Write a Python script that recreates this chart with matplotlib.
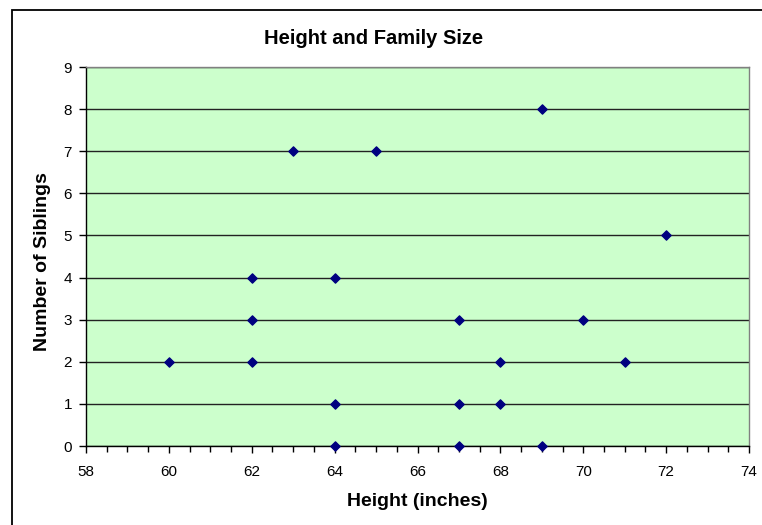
import matplotlib.pyplot as plt
from matplotlib.patches import Rectangle
from matplotlib.ticker import MultipleLocator

plt.rcParams['font.family'] = ['Liberation Sans', 'DejaVu Sans']

heights = [69, 63, 65, 72, 62, 64, 62, 67, 70, 60, 62, 68, 71, 64, 67, 68, 64, 67, 69]
siblings = [8, 7, 7, 5, 4, 4, 3, 3, 3, 2, 2, 2, 2, 1, 1, 1, 0, 0, 0]

W, H = 762, 525
fig = plt.figure(figsize=(W / 100, H / 100), dpi=100)
ax = fig.add_axes([86 / W, 1 - 446 / H, 663 / W, 379 / H])

# chart border (cropped at right and bottom as in the original)
fig.patches.append(Rectangle((12 / W, -0.1), 1.2, 1 - 10 / H + 0.1,
                             transform=fig.transFigure, fill=False,
                             edgecolor='black', linewidth=1.3))

ax.set_facecolor('#ccffcc')
ax.set_xlim(58, 74)
ax.set_ylim(0, 9)
ax.xaxis.set_major_locator(MultipleLocator(2))
ax.xaxis.set_minor_locator(MultipleLocator(0.5))
ax.yaxis.set_major_locator(MultipleLocator(1))

ax.grid(axis='y', color='#222222', linewidth=1)
ax.set_axisbelow(True)

ax.scatter(heights, siblings, marker='D', s=22, color='#000080', zorder=3,
           clip_on=False)

for side in ['top', 'right']:
    ax.spines[side].set_color('#808080')
    ax.spines[side].set_linewidth(1)
for side in ['left', 'bottom']:
    ax.spines[side].set_color('black')
    ax.spines[side].set_linewidth(1)

ax.tick_params(axis='both', which='major', direction='out', length=5, width=1,
               labelsize=11)
ax.tick_params(axis='x', which='major', pad=9)
ax.tick_params(axis='y', which='major', pad=5)
ax.tick_params(axis='x', which='minor', direction='out', length=4, width=1)

fig.text(374 / W, 1 - 38 / H, 'Height and Family Size', fontsize=14.5,
         fontweight='bold', ha='center', va='center')
ax.set_xlabel('Height (inches)', fontsize=14, fontweight='bold', va='center')
ax.set_ylabel('Number of Siblings', fontsize=14, fontweight='bold', va='center')
ax.xaxis.set_label_coords((417 - 86) / 663, (446 - 502) / 379)
ax.yaxis.set_label_coords((43 - 86) / 663, (446 - 262) / 379)

fig.savefig('out.png', dpi=100)
